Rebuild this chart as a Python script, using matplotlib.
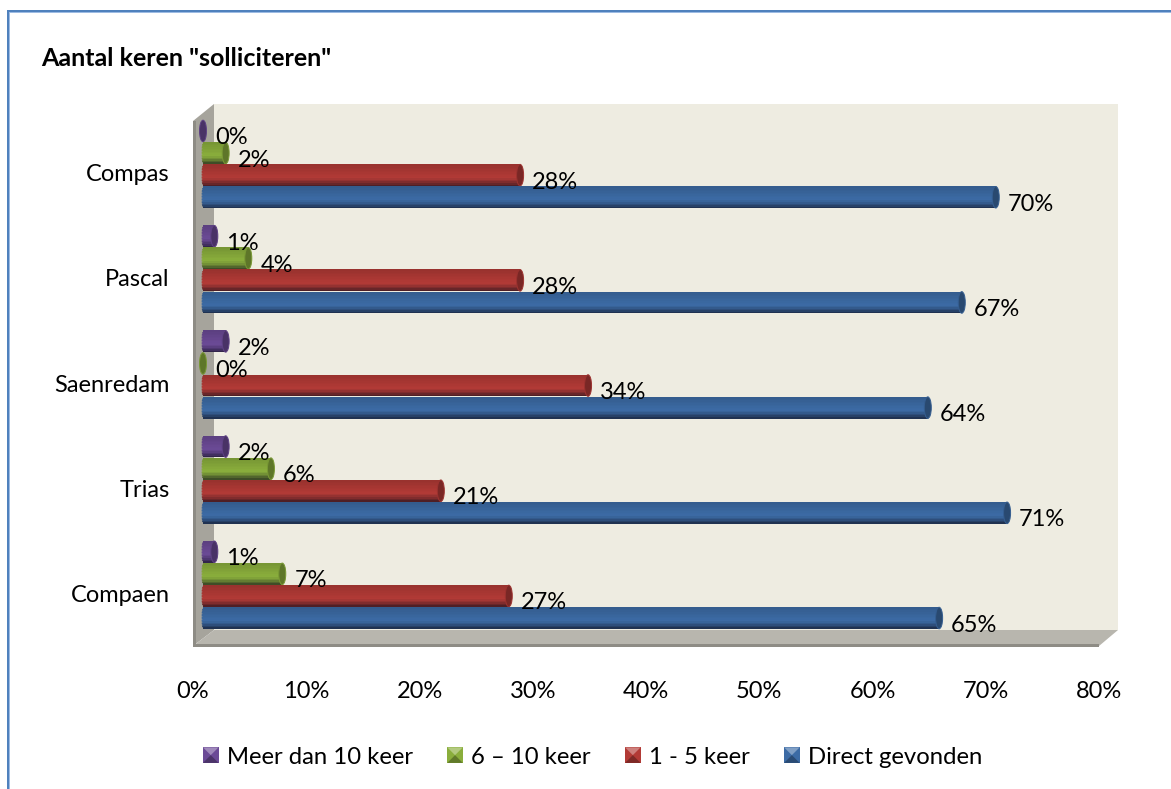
import matplotlib
matplotlib.use('Agg')
import matplotlib.pyplot as plt
from matplotlib.patches import Ellipse, Polygon, Rectangle
from matplotlib.legend_handler import HandlerBase
from matplotlib.colors import to_rgb
from matplotlib.transforms import ScaledTranslation

# data, top to bottom in the series order of the legend
scholen = ['Compaen', 'Trias', 'Saenredam', 'Pascal', 'Compas']
direct = [65, 71, 64, 67, 70]
een_vijf = [27, 21, 34, 28, 28]
zes_tien = [7, 6, 0, 4, 2]
meer_tien = [1, 2, 2, 1, 0]

namen = ['Meer dan 10 keer', '6 – 10 keer', '1 - 5 keer', 'Direct gevonden']
reeksen = [meer_tien, zes_tien, een_vijf, direct]
kleuren = ['#6B4A96', '#8AAE3C', '#B23A36', '#3C6BA5']
x_ticks = [0, 10, 20, 30, 40, 50, 60, 70, 80]

W, H = 1171, 789
plt.rcParams['font.family'] = ['Lato', 'DejaVu Sans']
FS = 17


def box(left, top, right, bottom):
    return [left / W, 1 - bottom / H, (right - left) / W, (bottom - top) / H]


def mix(kleur, doel, f):
    c = to_rgb(kleur)
    return tuple(a + (b - a) * f for a, b in zip(c, doel))


def px(x, y):
    return (x / W, 1 - y / H)


fig = plt.figure(figsize=(W / 100, H / 100), dpi=100)

# outer border, only the left and top edge are in the picture
for punten, kleur in [
    ([(8, 11), (10, 11), (10, 789), (8, 789)], '#9DBBE3'),
    ([(8, 12), (1171, 12), (1171, 13), (8, 13)], '#9DBBE3'),
    ([(6.5, 10), (8.5, 10), (8.5, 789), (6.5, 789)], '#4F81BD'),
    ([(6.5, 10), (1171, 10), (1171, 12), (6.5, 12)], '#4F81BD'),
]:
    fig.add_artist(Polygon([px(*p) for p in punten], closed=True,
                           transform=fig.transFigure, fc=kleur, ec='none'))
fig.text(41 / W, 1 - 59 / H, 'Aantal keren "solliciteren"', fontsize=18,
         fontweight='bold', va='center', ha='left')

# back wall, side wall and floor of the 3d box
ax_back = fig.add_axes(box(214, 104, 1118, 630))
ax_back.set_facecolor('#EEECE1')
ax_back.set_xticks([])
ax_back.set_yticks([])
for s in ax_back.spines.values():
    s.set_visible(False)

for punten, kleur in [
    ([(193, 121), (214, 104), (214, 630), (193, 646)], '#A6A49C'),
    ([(193, 646), (214, 630), (1118, 630), (1099, 646)], '#B8B6AE'),
    ([(193, 644), (1099, 644), (1099, 647), (193, 647)], '#8E8C85'),
    ([(193, 121), (196, 121), (196, 646), (193, 646)], '#8E8C85'),
]:
    fig.add_artist(Polygon([px(*p) for p in punten], closed=True,
                           transform=fig.transFigure, fc=kleur, ec='none'))

# front plane only carries the axis labels
ax_front = fig.add_axes(box(193, 120, 1099, 646))
ax_front.set_zorder(5)
ax_front.patch.set_visible(False)
ax_front.set_xlim(0, 80)
ax_front.set_ylim(-0.5, 4.5)
ax_front.set_xticks(x_ticks)
ax_front.set_xticklabels([f'{t}%' for t in x_ticks], fontsize=FS)
ax_front.set_yticks(range(len(scholen)))
ax_front.set_yticklabels(scholen, fontsize=FS)
ax_front.tick_params(length=0, pad=0)
ax_front.tick_params(axis='x', pad=25)
ax_front.tick_params(axis='y', pad=17)
for s in ax_front.spines.values():
    s.set_visible(False)

# bars sit halfway into the box
ax = fig.add_axes(box(203, 111.5, 1109, 637.5))
ax.set_zorder(6)
ax.patch.set_visible(False)
ax.set_xlim(0, 80)
ax.set_ylim(-0.5, 4.5)
ax.axis('off')

hoogte = 0.205
stap = 0.21
n = 14
pad_x = 3.5 * 80 / 906
achter_x = 1.5 * 80 / 906
label_trans = ScaledTranslation(12 / 100, -7 / 100, fig.dpi_scale_trans)

for r, (waarden, kleur) in enumerate(zip(reeksen, kleuren)):
    for i, w in enumerate(waarden):
        y = i + (1.5 - r) * stap
        if w > 0:
            for k in range(n):
                f = k / (n - 1)  # 0 at the bottom edge, 1 at the top
                if f < 0.4:
                    c = mix(kleur, (0.05, 0.05, 0.1), 0.6 * (1 - f / 0.4) ** 1.4)
                else:
                    c = mix(kleur, (0, 0, 0), 0.14 * (f - 0.4) / 0.6)
                yk = y - hoogte / 2 + (k + 0.5) * hoogte / n
                ax.barh(yk, w, height=hoogte / n * 1.15, color=c, lw=0, zorder=3 + r)
                # rounded back end
                ax.add_patch(Ellipse((0, yk), achter_x * 2 * (1 - abs(2 * f - 1) ** 3) ** 0.5,
                                     hoogte / n * 1.15, fc=c, ec='none', zorder=3 + r,
                                     clip_on=False))
        # end cap
        ax.add_patch(Ellipse((w, y), pad_x * 2, hoogte, fc=mix(kleur, (0, 0, 0), 0.32),
                             ec=mix(kleur, (0, 0, 0), 0.12), lw=0.7, zorder=3.5 + r,
                             clip_on=False))
        ax.text(w, y, f'{w}%', transform=ax.transData + label_trans, fontsize=FS,
                ha='left', va='center', color='black', zorder=10)


class Blokje(HandlerBase):
    def create_artists(self, legend, handle, x, y, w, h, fontsize, trans):
        c = handle.get_facecolor()[:3]
        s = 15.5 * 72 / 100
        y0 = y + (h - s) / 2
        vak = Rectangle((x, y0), s, s, fc=c, ec='none', transform=trans)
        top = Polygon([(x, y0 + s), (x + s, y0 + s), (x + s / 2, y0 + s / 2)], closed=True,
                      fc=mix(c, (1, 1, 1), 0.35), ec='none', transform=trans)
        bodem = Polygon([(x, y0), (x + s, y0), (x + s / 2, y0 + s / 2)], closed=True,
                        fc=mix(c, (0, 0, 0), 0.3), ec='none', transform=trans)
        return [vak, top, bodem]


handles = [Rectangle((0, 0), 1, 1, fc=c) for c in kleuren]
fig.legend(handles, namen, ncol=4, loc='center left', bbox_to_anchor=(203 / W, 1 - 757 / H),
           frameon=False, fontsize=17.2, handler_map={Rectangle: Blokje()},
           handlelength=0.64, handletextpad=0.35, columnspacing=1.45, borderpad=0, borderaxespad=0)

fig.savefig('out.png', dpi=100, facecolor='white')
